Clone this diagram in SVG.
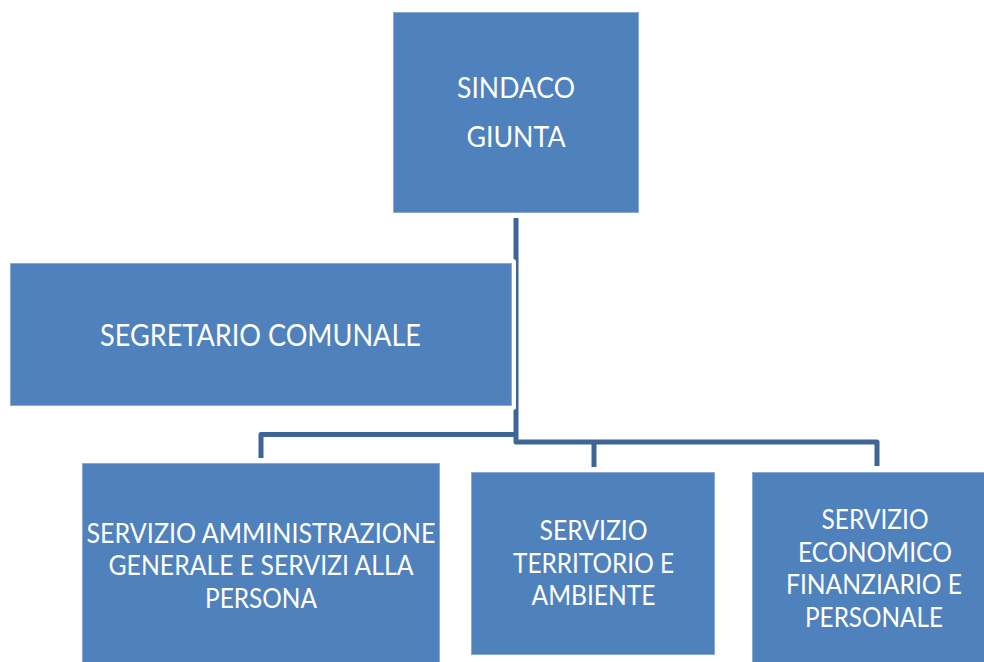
<svg xmlns="http://www.w3.org/2000/svg" width="984" height="662" viewBox="0 0 984 662">
  <style>
    .box { fill: #4F81BD; stroke: #8CA9D3; stroke-width: 1; }
    .halo { fill: #FFFFFF; }
    .lbl { font-family: Lato, "Open Sans", "Liberation Sans", sans-serif; fill: #FFFFFF; text-anchor: middle; }
    .big { font-size: 29px; }
    .seg { font-size: 30px; }
    .small { font-size: 26px; }
    .conn { fill: none; stroke: #3D6595; stroke-width: 5; stroke-linejoin: round; }
  </style>
  <rect width="984" height="662" fill="#FFFFFF"/>
  <g id="connectors">
    <path class="conn" d="M516 218 V442 H877 V466"/>
    <path class="conn" d="M516 434.5 H261 V458"/>
    <path class="conn" d="M594 442 V467"/>
  </g>
  <g id="sindaco">
    <rect class="box" x="393.5" y="12.5" width="245" height="200"/>
    <text class="lbl big" x="516" y="97.5" textLength="118" lengthAdjust="spacingAndGlyphs">SINDACO</text>
    <text class="lbl big" x="516" y="146.5" textLength="99" lengthAdjust="spacingAndGlyphs">GIUNTA</text>
  </g>
  <g id="segretario">
    <rect class="halo" x="6" y="259" width="510" height="151" rx="3"/>
    <rect class="box" x="10.5" y="263.5" width="501" height="142"/>
    <text class="lbl seg" x="260.5" y="345.5" textLength="321" lengthAdjust="spacingAndGlyphs">SEGRETARIO COMUNALE</text>
  </g>
  <g id="servizio-amministrazione">
    <rect class="box" x="82.5" y="463.5" width="357" height="210"/>
    <text class="lbl small" x="261" y="542.5" textLength="349" lengthAdjust="spacingAndGlyphs">SERVIZIO AMMINISTRAZIONE</text>
    <text class="lbl small" x="261" y="575" textLength="305" lengthAdjust="spacingAndGlyphs">GENERALE E SERVIZI ALLA</text>
    <text class="lbl small" x="261" y="607.5" textLength="112" lengthAdjust="spacingAndGlyphs">PERSONA</text>
  </g>
  <g id="servizio-territorio">
    <rect class="box" x="471.5" y="472.5" width="243" height="182"/>
    <text class="lbl small" x="593.5" y="540" textLength="108" lengthAdjust="spacingAndGlyphs">SERVIZIO</text>
    <text class="lbl small" x="593.5" y="572.5" textLength="161" lengthAdjust="spacingAndGlyphs">TERRITORIO E</text>
    <text class="lbl small" x="593.5" y="605" textLength="124" lengthAdjust="spacingAndGlyphs">AMBIENTE</text>
  </g>
  <g id="servizio-economico">
    <rect class="box" x="752.5" y="472.5" width="240" height="200"/>
    <text class="lbl small" x="875" y="529" textLength="107" lengthAdjust="spacingAndGlyphs">SERVIZIO</text>
    <text class="lbl small" x="875" y="561.5" textLength="154" lengthAdjust="spacingAndGlyphs">ECONOMICO</text>
    <text class="lbl small" x="874" y="594" textLength="176" lengthAdjust="spacingAndGlyphs">FINANZIARIO E</text>
    <text class="lbl small" x="874" y="626.5" textLength="138" lengthAdjust="spacingAndGlyphs">PERSONALE</text>
  </g>
</svg>
